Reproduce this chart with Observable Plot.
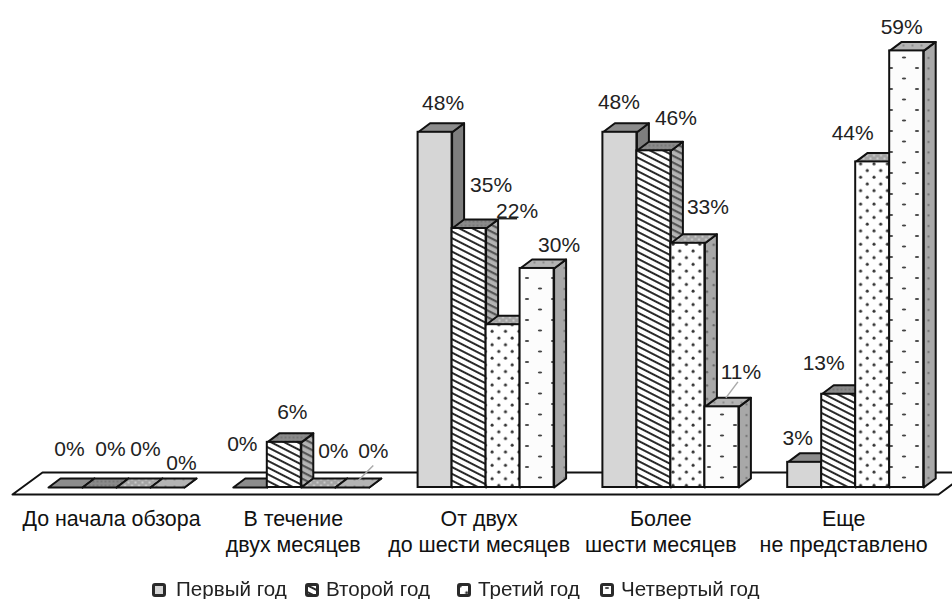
<!DOCTYPE html>
<html>
<head>
<meta charset="utf-8">
<script src="https://cdn.jsdelivr.net/npm/d3@7"></script>
<script src="https://cdn.jsdelivr.net/npm/@observablehq/plot@0.6"></script>
<style>
  html, body { margin: 0; padding: 0; background: #fff; overflow: hidden; height: 599px; }
  #page { position: relative; width: 952px; height: 599px; filter: blur(0.35px); }
  #chart svg { display: block; }
  #legend span.item { position: absolute; top: 577px; display: inline-flex; align-items: center; white-space: nowrap; font: 20.6px "Liberation Sans", Arial, sans-serif; color: #222; }
  #legend svg { display: block; }
</style>
</head>
<body>
<div id="page">
<div id="chart"></div>
<div id="legend"></div>
</div>
<script>
// ---- Data ----
const categories = ["До начала обзора", "В течение\nдвух месяцев", "От двух\nдо шести месяцев", "Более\nшести месяцев", "Еще\nне представлено"];
const seriesNames = ["Первый год", "Второй год", "Третий год", "Четвертый год"];
const firstYear = [0, 0, 48, 48, 3.4];
const secondYear = [0, 6.1, 35, 45.5, 12.6];
const thirdYear = [0, 0, 22, 33, 44];
const fourthYear = [0, 0, 29.6, 10.9, 59];
const values = [firstYear, secondYear, thirdYear, fourthYear];

// ---- Layout (pixels) ----
const W = 952, H = 572;
const barPx = 34, groupPx = 184.8, firstBarPx = 48;
const pctPx = 7.4, basePx = 487, floorFrontPx = 494, floorBackPx = 472;
const depthPx = 12, risePx = 9;
const xu = p => p / barPx, yu = p => p / pctPx;
const floorLeft = 12, floorRight = 938, floorSkew = 30;

// label nudges relative to the top centre of each bar [series][group]
const nudgeX = [[4, -8, 8, -1, -7], [11, 8, 22, 22, -15], [12, 15, 14, 20, -20], [14, 21, 22, 19, -5]];
const nudgeY = [[-38, -43, -29, -30, -24], [-38, -30, -43, -33, -31], [-38, -36, -113, -36, -29], [-24, -36, -23, -35, -24]];
const catNudge = [-5, -8, -7, -10, -12];

const d = xu(depthPx), r = yu(risePx);
const barX = (g, s) => xu(groupPx) * g + s;

function bars(s) {
  return values[s].map((v, g) => ({ x0: barX(g, s), x1: barX(g, s) + 1, v, g }));
}
function poly(b, pts) { return pts.map(([x, y]) => ({ x, y, k: b.g })); }
const sidePts = s => bars(s).flatMap(b => poly(b, [[b.x1, 0], [b.x1 + d, r], [b.x1 + d, b.v + r], [b.x1, b.v]]));
const topPts = s => bars(s).flatMap(b => poly(b, [[b.x0, b.v], [b.x0 + d, b.v + r], [b.x1 + d, b.v + r], [b.x1, b.v]]));

const floorY0 = yu(basePx - floorFrontPx), floorY1 = yu(basePx - floorBackPx);
const fx = p => xu(p - firstBarPx);
const floor = [
  { x: fx(floorLeft), y: floorY0 }, { x: fx(floorLeft + floorSkew), y: floorY1 },
  { x: fx(floorRight + floorSkew), y: floorY1 }, { x: fx(floorRight), y: floorY0 }
];

const patternDefs = `
  <pattern id="f1" patternUnits="userSpaceOnUse" width="6" height="6" patternTransform="rotate(27)"><rect width="6" height="6" fill="#fff"/><rect width="6" height="2" fill="#2a2a2a"/></pattern>
  <pattern id="sd1" patternUnits="userSpaceOnUse" width="6" height="6" patternTransform="rotate(27)"><rect width="6" height="6" fill="#b4b4b4"/><rect width="6" height="2.2" fill="#555"/></pattern>
  <pattern id="t1" patternUnits="userSpaceOnUse" width="4" height="4"><rect width="4" height="4" fill="#8a8a8a"/><circle cx="1" cy="1" r=".7" fill="#555"/></pattern>
  <pattern id="f2" patternUnits="userSpaceOnUse" width="13.4" height="13.4"><rect width="13.4" height="13.4" fill="#fff"/><circle cx="3" cy="3" r="1.5" fill="#333"/><circle cx="9.7" cy="9.7" r="1.5" fill="#333"/></pattern>
  <pattern id="sd2" patternUnits="userSpaceOnUse" width="13.4" height="13.4"><rect width="13.4" height="13.4" fill="#a8a8a8"/><circle cx="3" cy="3" r="1.2" fill="#666"/><circle cx="9.7" cy="9.7" r="1.2" fill="#666"/></pattern>
  <pattern id="t2" patternUnits="userSpaceOnUse" width="7" height="6"><rect width="7" height="6" fill="#a4a4a4"/><circle cx="2" cy="2" r="1" fill="#d8d8d8"/><circle cx="5.5" cy="5" r="1" fill="#d8d8d8"/></pattern>
  <pattern id="f3" patternUnits="userSpaceOnUse" width="26" height="21"><rect width="26" height="21" fill="#fcfcfc"/><ellipse cx="7" cy="5" rx="2.2" ry="1.1" fill="#444"/><ellipse cx="20" cy="15.5" rx="2.2" ry="1.1" fill="#444"/></pattern>
  <pattern id="sd3" patternUnits="userSpaceOnUse" width="13" height="10.5"><rect width="13" height="10.5" fill="#a8a8a8"/><circle cx="5" cy="5" r="1.1" fill="#707070"/></pattern>
  <pattern id="t3" patternUnits="userSpaceOnUse" width="9" height="7"><rect width="9" height="7" fill="#b4b4b4"/><circle cx="3" cy="3" r=".9" fill="#777"/></pattern>`;

const defs = () => {
  const g = document.createElementNS("http://www.w3.org/2000/svg", "defs");
  g.innerHTML = patternDefs;
  return g;
};

const fronts = ["#d6d6d6", "url(#f1)", "url(#f2)", "url(#f3)"];
const sides = ["#7e7e7e", "url(#sd1)", "url(#sd2)", "url(#sd3)"];
const tops = ["#8c8c8c", "url(#t1)", "url(#t2)", "url(#t3)"];

const stroke = "#111";
const common = { x: "x", y: "y", z: "k", curve: "linear-closed", stroke, strokeWidth: 2, strokeLinejoin: "round" };

const barMarks = [0, 1, 2, 3].flatMap(s => [
  Plot.line(sidePts(s), { ...common, fill: sides[s] }),
  Plot.line(topPts(s), { ...common, fill: tops[s] }),
  Plot.rect(bars(s), { x1: "x0", x2: "x1", y1: 0, y2: "v", fill: fronts[s], stroke, strokeWidth: 2 })
]);

const labelData = values.flatMap((vs, s) => vs.map((v, g) => ({
  x: barX(g, s) + 0.5 + xu(nudgeX[s][g]),
  y: v - yu(nudgeY[s][g]),
  text: Math.round(v) + "%"
})));

const catData = categories.map((c, g) => ({ x: barX(g, 2) + xu(catNudge[g]), text: c }));

const toLeader = l => {
  const v = values[l.s][l.g], cx = barX(l.g, l.s) + 0.5;
  return { x1: cx + xu(l.x1), y1: v - yu(l.y1), x2: cx + xu(l.x2), y2: v - yu(l.y2) };
};
const greyLeaders = [
  { s: 3, g: 1, x1: 21, y1: -22, x2: 6, y2: -7 },
  { s: 3, g: 3, x1: 16, y1: -25, x2: 4, y2: -9 }
].map(toLeader);
const darkLeaders = [
  { s: 2, g: 2, x1: -5, y1: -106, x2: 14, y2: -106 }
].map(toLeader);

const plot = Plot.plot({
  width: W, height: H,
  marginTop: 0, marginRight: 0, marginLeft: 0, marginBottom: H - floorFrontPx,
  x: { domain: [xu(-firstBarPx), xu(W - firstBarPx)], axis: null },
  y: { domain: [floorY0, yu(basePx)], axis: null },
  style: { fontFamily: '"Liberation Sans", Arial, sans-serif', background: "#fff", overflow: "hidden" },
  marks: [
    defs,
    Plot.line(floor, { x: "x", y: "y", curve: "linear-closed", fill: "#fff", stroke, strokeWidth: 2 }),
    ...barMarks,
    Plot.link(greyLeaders, { x1: "x1", y1: "y1", x2: "x2", y2: "y2", stroke: "#aaa", strokeWidth: 1.5 }),
    Plot.link(darkLeaders, { x1: "x1", y1: "y1", x2: "x2", y2: "y2", stroke: "#222", strokeWidth: 1.5 }),
    Plot.text(labelData, { x: "x", y: "y", text: "text", fontSize: 21, fill: "#222" }),
    Plot.text(catData, { x: "x", y: floorY0, text: "text", fontSize: 21.4, fill: "#111", lineAnchor: "top", lineHeight: 1.25, dy: 12 })
  ]
});
document.getElementById("chart").append(plot);

// ---- Legend ----
const legendLeft = [152, 305, 457, 600];
const legendGap = [10, 7, 7, 7];
const legend = document.getElementById("legend");
seriesNames.forEach((name, s) => {
  const item = document.createElement("span");
  item.className = "item";
  item.style.left = legendLeft[s] + "px";
  item.innerHTML = `<svg width="14" height="14" style="margin-right:${legendGap[s]}px;margin-top:2px"><rect x="1.5" y="1.5" width="11" height="11" rx="1.5" fill="${fronts[s]}" stroke="#2a2a2a" stroke-width="3"/></svg>${name}`;
  legend.append(item);
});
</script>
</body>
</html>
